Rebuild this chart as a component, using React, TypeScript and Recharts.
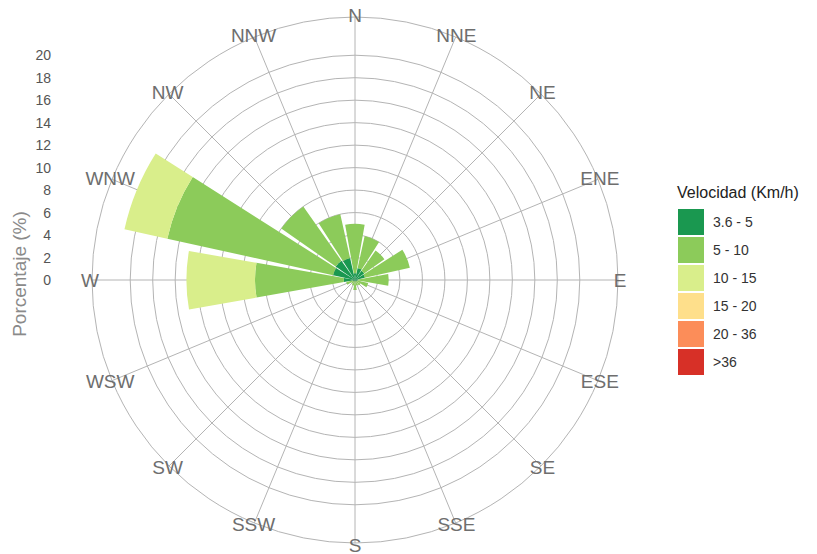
import React from 'react';
import {
  RadialBarChart,
  RadialBar,
  PolarGrid,
  PolarAngleAxis,
  PolarRadiusAxis,
  Legend,
} from 'recharts';

const directions = ['N', 'NNE', 'NE', 'ENE', 'E', 'ESE', 'SE', 'SSE', 'S', 'SSW', 'SW', 'WSW', 'W', 'WNW', 'NW', 'NNW'];
const speed3_6to5 = [0.6, 1.1, 1.0, 0.9, 0.3, 0.2, 0.1, 0.1, 0.2, 0.1, 0.1, 0.2, 1.0, 2.0, 2.1, 2.0];
const speed5to10 = [4.4, 2.9, 2.2, 4.1, 2.7, 1.0, 0.5, 0.4, 0.7, 0.4, 0.3, 0.6, 7.9, 15.1, 5.9, 4.0];
const speed10to15 = [0, 0, 0, 0, 0, 0, 0, 0, 0, 0, 0, 0, 6.1, 3.9, 0, 0];
const speed15to20 = [0, 0, 0, 0, 0, 0, 0, 0, 0, 0, 0, 0, 0, 0, 0, 0];
const speed20to36 = [0, 0, 0, 0, 0, 0, 0, 0, 0, 0, 0, 0, 0, 0, 0, 0];
const speedOver36 = [0, 0, 0, 0, 0, 0, 0, 0, 0, 0, 0, 0, 0, 0, 0, 0];

const speedLabels = ['3.6 - 5', '5 - 10', '10 - 15', '15 - 20', '20 - 36', '>36'];
const speedKeys = ['s1', 's2', 's3', 's4', 's5', 's6'];
const speedColors = ['#1a9850', '#8ccb5a', '#d9ee8b', '#fedf8b', '#fc8d59', '#d73027'];
const percentTicks = [0, 2, 4, 6, 8, 10, 12, 14, 16, 18, 20];
const radiusMax = 23.4;

const seriesValues = [speed3_6to5, speed5to10, speed10to15, speed15to20, speed20to36, speedOver36];

const data = directions.map((dir, i) => {
  const row: Record<string, any> = { dir };
  speedKeys.forEach((k, j) => {
    row[k] = seriesValues[j][i];
  });
  return row;
});

const STEP = 360 / directions.length;
const START_ANGLE = 90 - STEP / 2;
const END_ANGLE = START_ANGLE - 360;
const directionAngles = directions.map((_, i) => 90 - i * STEP);

const FONT = '"Liberation Sans", Arial, sans-serif';

const AngleTick = (props: any) => {
  const { cx, cy, radius, payload } = props;
  const a = (-(payload.coordinate + STEP / 2) * Math.PI) / 180;
  const r = radius + 2;
  const x = cx + r * Math.cos(a);
  const y = cy + r * Math.sin(a);
  return (
    <text
      x={x}
      y={y}
      textAnchor="middle"
      dominantBaseline="central"
      fill="#6e6e6e"
      fontSize={19}
      fontFamily={FONT}
    >
      {payload.value}
    </text>
  );
};

const RadiusTick = (props: any) => {
  const { y, payload } = props;
  if (payload.value > 20) return null;
  return (
    <text
      x={51}
      y={y}
      textAnchor="end"
      dominantBaseline="central"
      fill="#555555"
      fontSize={14}
      fontFamily={FONT}
    >
      {payload.value}
    </text>
  );
};

const LegendContent = () => (
  <div style={{ fontFamily: FONT }}>
    <div style={{ fontSize: 16, color: '#222', marginBottom: 6, whiteSpace: 'nowrap' }}>Velocidad (Km/h)</div>
    {speedLabels.map((lab, i) => (
      <div key={lab} style={{ display: 'flex', alignItems: 'center', height: 28, marginLeft: 1 }}>
        <div style={{ width: 26, height: 26, background: speedColors[i] }} />
        <div style={{ marginLeft: 9, fontSize: 14, color: '#333' }}>{lab}</div>
      </div>
    ))}
  </div>
);

export default function App() {
  return (
    <div style={{ position: 'absolute', left: 0, top: 0, width: 817, height: 554, background: '#fff' }}>
      <RadialBarChart
        width={817}
        height={554}
        data={data}
        cx={355}
        cy={280}
        innerRadius={0}
        outerRadius={263}
        startAngle={START_ANGLE}
        endAngle={END_ANGLE}
        layout="centric"
        barCategoryGap="6%"
        margin={{ top: 0, right: 0, bottom: 0, left: 0 }}
        style={{ fontFamily: FONT }}
      >
        <PolarGrid gridType="circle" stroke="#b4b4b4" strokeWidth={1} polarAngles={directionAngles} />
        <PolarAngleAxis
          dataKey="dir"
          type="category"
          tickLine={false}
          axisLine={false}
          tick={<AngleTick />}
        />
        <PolarRadiusAxis
          type="number"
          domain={[0, radiusMax]}
          ticks={[...percentTicks, radiusMax]}
          angle={90}
          axisLine={false}
          tickLine={false}
          tick={<RadiusTick />}
        />
        {speedKeys.map((k, i) => (
          <RadialBar
            key={k}
            dataKey={k}
            name={speedLabels[i]}
            stackId="a"
            fill={speedColors[i]}
            isAnimationActive={false}
          />
        ))}
        <Legend
          content={<LegendContent />}
          wrapperStyle={{ left: 677, top: 184, width: 150 }}
        />
      </RadialBarChart>
      <div
        style={{
          position: 'absolute',
          left: 20,
          top: 274,
          transform: 'translate(-50%, -50%) rotate(-90deg)',
          fontFamily: FONT,
          fontSize: 19,
          color: '#8a8a8a',
          whiteSpace: 'nowrap',
        }}
      >
        Porcentaje (%)
      </div>
    </div>
  );
}
